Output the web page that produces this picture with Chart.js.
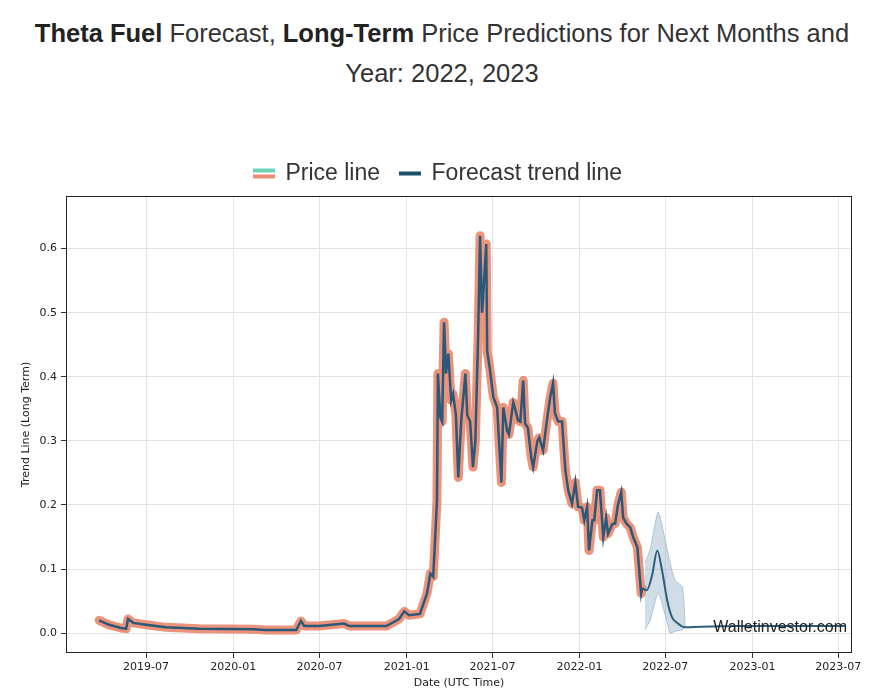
<!DOCTYPE html>
<html>
<head>
<meta charset="utf-8">
<script src="https://cdn.jsdelivr.net/npm/chart.js@4.4.0/dist/chart.umd.min.js"></script>
<style>
  body{ margin:0; background:#fff; width:892px; height:694px; overflow:hidden; position:relative; font-family:"Liberation Sans", Arial, sans-serif; }
  #title{ position:absolute; top:13px; left:-4px; width:892px; text-align:center; font-size:25.5px; line-height:40px; color:#333; }
  #title b{ color:#222; }
  #wrap{ position:absolute; top:140px; left:0; width:892px; height:554px; }
</style>
</head>
<body>
<div id="title"><b>Theta Fuel</b> Forecast, <b>Long-Term</b> Price Predictions for Next Months and<br>Year: 2022, 2023</div>
<div id="wrap"><canvas id="chart" width="892" height="554"></canvas></div>
<script>
// price history
const priceDates = ['2019-03-24','2019-04-14','2019-05-09','2019-05-20','2019-05-24','2019-06-04','2019-07-01','2019-08-12','2019-10-21',
  '2020-02-12','2020-03-10','2020-05-13','2020-05-23','2020-05-30','2020-06-30','2020-08-22','2020-09-02','2020-11-19','2020-12-16','2020-12-27',
  '2021-01-06','2021-01-29','2021-02-13','2021-02-20','2021-02-26','2021-03-02','2021-03-06','2021-03-08','2021-03-13','2021-03-17','2021-03-21',
  '2021-03-25','2021-03-30','2021-04-05','2021-04-09','2021-04-15','2021-04-20','2021-04-26','2021-05-05','2021-05-09','2021-05-15','2021-05-21',
  '2021-05-26','2021-06-01','2021-06-05','2021-06-09','2021-06-11','2021-06-18','2021-06-20','2021-06-26','2021-07-03','2021-07-11','2021-07-17',
  '2021-07-20','2021-07-24','2021-08-01','2021-08-05','2021-08-14','2021-08-18','2021-08-24','2021-08-29','2021-09-04','2021-09-08','2021-09-14',
  '2021-09-21','2021-09-25','2021-10-04','2021-10-08','2021-10-16','2021-10-25','2021-10-31','2021-11-06','2021-11-10','2021-11-17','2021-11-25',
  '2021-12-02','2021-12-08','2021-12-16','2021-12-23','2021-12-29','2022-01-06','2022-01-11','2022-01-17','2022-01-21','2022-01-28','2022-02-01',
  '2022-02-07','2022-02-13','2022-02-20','2022-02-26','2022-03-02','2022-03-11','2022-03-17','2022-03-23','2022-03-30','2022-04-03','2022-04-11',
  '2022-04-18','2022-04-24','2022-05-03','2022-05-07','2022-05-11','2022-05-13'];
const priceValues = [0.020,0.013,0.008,0.007,0.022,0.016,0.013,0.009,0.007,
  0.006,0.005,0.005,0.019,0.011,0.011,0.015,0.011,0.011,0.022,0.034,
  0.028,0.030,0.062,0.093,0.088,0.145,0.207,0.405,0.337,0.330,0.485,
  0.405,0.436,0.363,0.373,0.340,0.243,0.330,0.405,0.340,0.330,0.259,
  0.300,0.467,0.620,0.500,0.520,0.607,0.440,0.410,0.368,0.352,0.274,
  0.235,0.352,0.316,0.310,0.360,0.350,0.332,0.330,0.394,0.327,0.320,
  0.274,0.259,0.300,0.305,0.285,0.337,0.368,0.390,0.343,0.330,0.330,
  0.254,0.223,0.202,0.235,0.197,0.196,0.176,0.197,0.129,0.176,0.176,
  0.223,0.223,0.150,0.180,0.155,0.170,0.171,0.200,0.220,0.180,0.170,
  0.165,0.150,0.134,0.098,0.062,0.070];

// forecast trend
const forecastDates = ['2022-05-13','2022-05-23','2022-06-03','2022-06-14','2022-06-24','2022-07-05','2022-07-15','2022-07-26','2022-08-12',
  '2022-09-15','2022-12-01','2023-03-01','2023-07-15'];
const forecastValues = [0.070,0.067,0.090,0.129,0.098,0.051,0.025,0.016,0.009,0.010,0.011,0.011,0.011];

// confidence band
const bandDates = ['2022-05-19','2022-05-30','2022-06-16','2022-07-05','2022-07-11','2022-07-22','2022-08-06','2022-08-12'];
const bandUpper = [0.110,0.130,0.189,0.130,0.110,0.082,0.072,0.009];
const bandLower = [0.005,0.020,0.062,0.016,0.000,0.003,0.005,0.009];

const xTicks = ['2019-07-01','2020-01-01','2020-07-01','2021-01-01','2021-07-01','2022-01-01','2022-07-01','2023-01-01','2023-07-01'];
const yTicks = [0, 0.1, 0.2, 0.3, 0.4, 0.5, 0.6];

const ts = d => Date.parse(d);
const pts = (dates, vals) => dates.map((d, i) => ({ x: ts(d), y: vals[i] }));

function swatch(colors){
  const c = document.createElement('canvas');
  c.width = 22; c.height = 14;
  const g = c.getContext('2d');
  if(colors.length === 2){
    g.fillStyle = colors[0]; g.fillRect(0, 2, 22, 4);
    g.fillStyle = colors[1]; g.fillRect(0, 8, 22, 4);
  } else {
    g.fillStyle = colors[0]; g.fillRect(0, 5, 22, 4);
  }
  return c;
}
const priceSwatch = swatch(['#6fd3b8', '#ec8c74']);
const trendSwatch = swatch(['#1b4f6e']);

const frame = {
  id: 'frame',
  afterDraw(chart){
    const { ctx, chartArea: a } = chart;
    ctx.save();
    ctx.strokeStyle = '#222'; ctx.lineWidth = 1;
    ctx.strokeRect(a.left + 0.5, a.top + 0.5, a.right - a.left - 1, a.bottom - a.top - 1);
    ctx.font = '16px "Liberation Sans", Arial, sans-serif';
    ctx.fillStyle = '#222'; ctx.textAlign = 'right'; ctx.textBaseline = 'middle';
    ctx.fillText('Walletinvestor.com', a.right - 5, a.bottom - 25);
    ctx.restore();
  }
};
const legendPlace = {
  id: 'legendPlace',
  beforeInit(chart){
    const fit = chart.legend.fit;
    chart.legend.fit = function(){ fit.call(this); this.height = 56; };
  },
  afterLayout(chart){
    const lg = chart.legend;
    lg.left += 12; lg.right += 12; lg.top += 2; lg.bottom += 2;
  }
};

new Chart(document.getElementById('chart'), {
  type: 'line',
  data: {
    datasets: [
      { label: 'Price inner', data: pts(priceDates, priceValues), borderColor: '#2b5878', borderWidth: 2.5, pointRadius: 0, tension: 0 },
      { label: 'Forecast trend line', data: pts(forecastDates, forecastValues), borderColor: '#2d5f7c', borderWidth: 2, pointRadius: 0, tension: 0.4, cubicInterpolationMode: 'monotone' },
      { label: 'upper', data: pts(bandDates, bandUpper), borderColor: 'rgba(110,150,180,0.45)', borderWidth: 1, pointRadius: 0, tension: 0.2, fill: '+1', backgroundColor: 'rgba(110,150,180,0.32)' },
      { label: 'lower', data: pts(bandDates, bandLower), borderColor: 'rgba(110,150,180,0.45)', borderWidth: 1, pointRadius: 0, tension: 0.2 },
      { label: 'Price line', data: pts(priceDates, priceValues), borderColor: 'rgba(232,128,100,0.85)', borderWidth: 9, borderJoinStyle: 'round', borderCapStyle: 'round', pointRadius: 0, tension: 0 }
    ]
  },
  options: {
    responsive: false,
    animation: false,
    layout: { padding: { left: 0, right: 40, top: 0, bottom: 0 } },
    plugins: {
      tooltip: { enabled: false },
      legend: {
        position: 'top',
        labels: {
          usePointStyle: true, pointStyleWidth: 20, padding: 20, color: '#333',
          font: { family: '"Liberation Sans", Arial, sans-serif', size: 23 },
          generateLabels: () => [
            { text: 'Price line', pointStyle: priceSwatch, fillStyle: '#ec8c74', strokeStyle: '#ec8c74', lineWidth: 0, datasetIndex: 4, fontColor: '#333' },
            { text: 'Forecast trend line', pointStyle: trendSwatch, fillStyle: '#1b4f6e', strokeStyle: '#1b4f6e', lineWidth: 0, datasetIndex: 1, fontColor: '#333' }
          ]
        }
      }
    },
    scales: {
      x: {
        type: 'linear',
        min: ts('2019-01-13'), max: ts('2023-07-30'),
        afterBuildTicks: s => { s.ticks = xTicks.map(d => ({ value: ts(d) })); },
        afterFit: s => { s.height = 41; },
        grid: { color: '#e3e3e3', tickColor: '#333', tickLength: 5 },
        border: { display: false },
        ticks: {
          color: '#222', padding: 3, maxRotation: 0, autoSkip: false,
          font: { family: '"DejaVu Sans", sans-serif', size: 11 },
          callback: v => { const d = new Date(v); return d.getUTCFullYear() + '-' + String(d.getUTCMonth() + 1).padStart(2, '0'); }
        },
        title: { display: true, text: 'Date (UTC Time)', color: '#222', padding: { top: 0, bottom: 4 },
          font: { family: '"DejaVu Sans", sans-serif', size: 11 } }
      },
      y: {
        min: -0.031, max: 0.682,
        afterBuildTicks: s => { s.ticks = yTicks.map(v => ({ value: v })); },
        afterFit: s => { s.width = 66; },
        grid: { color: '#e3e3e3', tickColor: '#333', tickLength: 5 },
        border: { display: false },
        ticks: { color: '#222', padding: 4, font: { family: '"DejaVu Sans", sans-serif', size: 11 },
          callback: v => v.toFixed(1) },
        title: { display: true, text: 'Trend Line (Long Term)', color: '#222', padding: { top: 20, bottom: 0 },
          font: { family: '"DejaVu Sans", sans-serif', size: 11 } }
      }
    }
  },
  plugins: [frame, legendPlace]
});
</script>
</body>
</html>
